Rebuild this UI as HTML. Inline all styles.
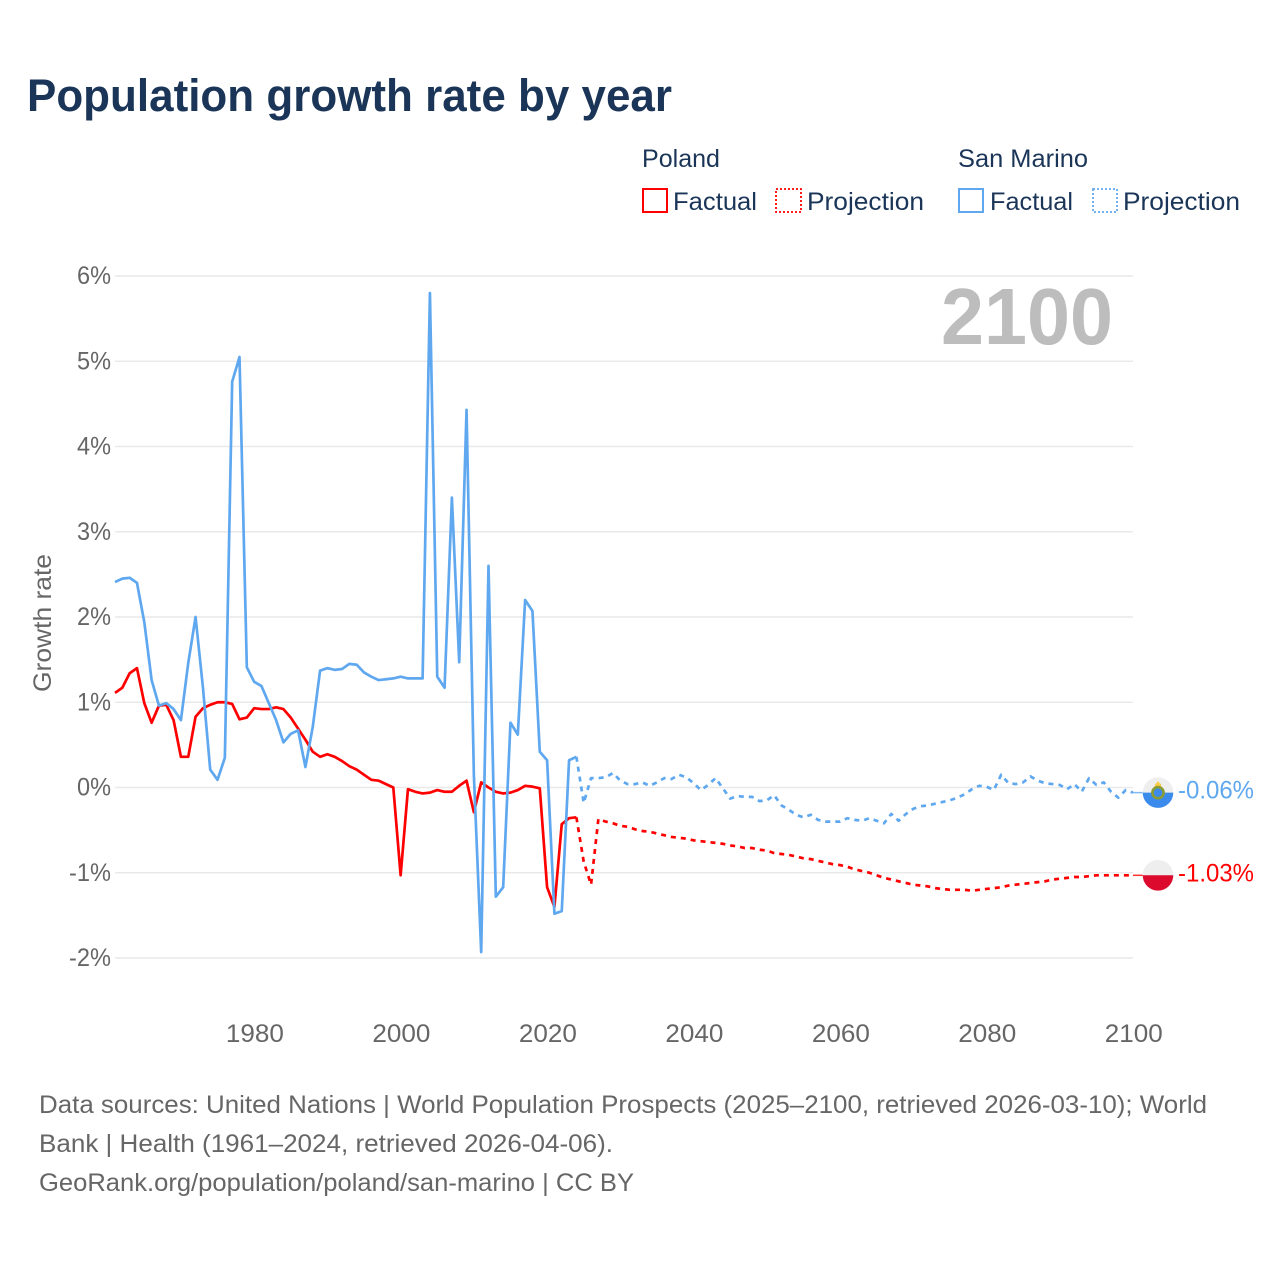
<!DOCTYPE html>
<html lang="en">
<head>
<meta charset="utf-8">
<title>Population growth rate by year</title>
<style>
  html, body { margin: 0; padding: 0; background: #fff; }
  svg { display: block; font-family: "Liberation Sans", sans-serif; }
</style>
</head>
<body>
<svg id="chart" xmlns="http://www.w3.org/2000/svg" width="1280" height="1280" viewBox="0 0 1280 1280">
  <rect x="0" y="0" width="1280" height="1280" fill="#ffffff"/>
  <text x="27" y="111" font-size="45" font-weight="700" fill="#1a3557" textLength="645" lengthAdjust="spacingAndGlyphs">Population growth rate by year</text>

  <g font-size="25" fill="#1a3557">
    <text x="642" y="167" textLength="78" lengthAdjust="spacingAndGlyphs">Poland</text>
    <text x="958" y="167" textLength="130" lengthAdjust="spacingAndGlyphs">San Marino</text>
    <rect x="643" y="189" width="24" height="23" fill="none" stroke="#ff0000" stroke-width="2"/>
    <text x="673" y="210" textLength="84" lengthAdjust="spacingAndGlyphs">Factual</text>
    <rect x="776" y="189" width="25" height="23" fill="none" stroke="#ff0000" stroke-width="1.8" stroke-dasharray="2 2"/>
    <text x="807" y="210" textLength="117" lengthAdjust="spacingAndGlyphs">Projection</text>
    <rect x="959" y="189" width="24" height="23" fill="none" stroke="#5fa8ef" stroke-width="2"/>
    <text x="990" y="210" textLength="83" lengthAdjust="spacingAndGlyphs">Factual</text>
    <rect x="1093" y="189" width="24" height="23" fill="none" stroke="#5fa8ef" stroke-width="1.8" stroke-dasharray="2 2"/>
    <text x="1123" y="210" textLength="117" lengthAdjust="spacingAndGlyphs">Projection</text>
  </g>

  <text transform="translate(51,623) rotate(-90)" text-anchor="middle" font-size="25" fill="#666666" textLength="138" lengthAdjust="spacingAndGlyphs">Growth rate</text>

  <g id="grid"></g>
  <g id="y-ticks"></g>
  <g id="x-ticks"></g>

  <text x="941" y="344" font-size="80" font-weight="700" fill="#bdbdbd" textLength="172" lengthAdjust="spacingAndGlyphs">2100</text>

  <g id="series"></g>
  <g id="end-markers"></g>

  <g font-size="25" fill="#666666">
    <text x="39" y="1113" textLength="1168" lengthAdjust="spacingAndGlyphs">Data sources: United Nations | World Population Prospects (2025–2100, retrieved 2026-03-10); World</text>
    <text x="39" y="1152" textLength="574" lengthAdjust="spacingAndGlyphs">Bank | Health (1961–2024, retrieved 2026-04-06).</text>
    <text x="39" y="1191" textLength="595" lengthAdjust="spacingAndGlyphs">GeoRank.org/population/poland/san-marino | CC BY</text>
  </g>
</svg>

<script>
const factualStartYear = 1961;
const projectionStartYear = 2025;
const yTickValues = [6, 5, 4, 3, 2, 1, 0, -1, -2];
const yTickLabels = ["6%", "5%", "4%", "3%", "2%", "1%", "0%", "-1%", "-2%"];
const xTickValues = [1980, 2000, 2020, 2040, 2060, 2080, 2100];
const xTickLabels = ["1980", "2000", "2020", "2040", "2060", "2080", "2100"];

const polandFactual = [
  1.11, 1.17, 1.34, 1.40, 0.99, 0.76, 0.96, 0.97, 0.79, 0.36,
  0.36, 0.83, 0.93, 0.97, 1.00, 1.00, 0.98, 0.80, 0.82, 0.93,
  0.92, 0.92, 0.94, 0.92, 0.82, 0.69, 0.56, 0.42, 0.36, 0.39,
  0.36, 0.31, 0.25, 0.21, 0.15, 0.09, 0.08, 0.04, 0.00, -1.03,
  -0.02, -0.05, -0.07, -0.06, -0.03, -0.05, -0.05, 0.02, 0.08, -0.29,
  0.06, 0.00, -0.05, -0.07, -0.06, -0.03, 0.02, 0.01, -0.01, -1.17,
  -1.40, -0.43, -0.36, -0.35
];
const polandProjection = [
  -0.87, -1.14, -0.37, -0.40, -0.42, -0.45, -0.46, -0.49, -0.51, -0.52,
  -0.54, -0.56, -0.58, -0.59, -0.60, -0.62, -0.63, -0.64, -0.65, -0.66,
  -0.68, -0.69, -0.71, -0.71, -0.73, -0.74, -0.77, -0.78, -0.79, -0.81,
  -0.83, -0.84, -0.86, -0.88, -0.90, -0.91, -0.93, -0.96, -0.98, -1.00,
  -1.03, -1.06, -1.08, -1.10, -1.12, -1.14, -1.15, -1.16, -1.18, -1.19,
  -1.20, -1.20, -1.20, -1.21, -1.20, -1.19, -1.18, -1.17, -1.15, -1.14,
  -1.13, -1.12, -1.11, -1.10, -1.08, -1.07, -1.06, -1.05, -1.05, -1.04,
  -1.03, -1.03, -1.03, -1.03, -1.03, -1.03
];
const sanMarinoFactual = [
  2.41, 2.45, 2.46, 2.40, 1.94, 1.26, 0.96, 0.99, 0.92, 0.79,
  1.46, 2.00, 1.18, 0.21, 0.09, 0.35, 4.76, 5.05, 1.41, 1.24,
  1.19, 0.99, 0.79, 0.53, 0.63, 0.67, 0.24, 0.71, 1.37, 1.40,
  1.38, 1.39, 1.45, 1.44, 1.35, 1.30, 1.26, 1.27, 1.28, 1.30,
  1.28, 1.28, 1.28, 5.80, 1.30, 1.17, 3.40, 1.47, 4.43, 0.15,
  -1.93, 2.60, -1.28, -1.17, 0.76, 0.62, 2.20, 2.07, 0.42, 0.32,
  -1.48, -1.45, 0.32, 0.36
];
const sanMarinoProjection = [
  -0.18, 0.11, 0.11, 0.12, 0.17, 0.08, 0.04, 0.04, 0.06, 0.02,
  0.06, 0.11, 0.10, 0.15, 0.12, 0.05, -0.03, 0.03, 0.11, -0.01,
  -0.13, -0.10, -0.11, -0.11, -0.16, -0.15, -0.09, -0.21, -0.26, -0.32,
  -0.35, -0.32, -0.38, -0.40, -0.40, -0.40, -0.36, -0.38, -0.39, -0.36,
  -0.39, -0.42, -0.31, -0.39, -0.31, -0.25, -0.22, -0.21, -0.19, -0.17,
  -0.15, -0.12, -0.08, -0.02, 0.02, 0.01, -0.03, 0.15, 0.05, 0.04,
  0.06, 0.13, 0.08, 0.05, 0.04, 0.03, -0.02, 0.04, -0.05, 0.11,
  0.03, 0.06, -0.05, -0.12, -0.03, -0.06
];

const SVG_NS = "http://www.w3.org/2000/svg";
const RED = "#ff0000";
const BLUE = "#5fa8ef";

function xScale(year) {
  return 115 + (year - 1961) * (1133 - 115) / (2100 - 1961);
}
function yScale(value) {
  return 787.5 - value * 85.25;
}
function pointsFor(startYear, values) {
  return values.map(function (v, i) {
    return xScale(startYear + i).toFixed(2) + "," + yScale(v).toFixed(2);
  }).join(" ");
}
function make(tag, attrs, parent) {
  const el = document.createElementNS(SVG_NS, tag);
  Object.keys(attrs).forEach(function (k) { el.setAttribute(k, attrs[k]); });
  parent.appendChild(el);
  return el;
}

const grid = document.getElementById("grid");
const yTicks = document.getElementById("y-ticks");
const xTicks = document.getElementById("x-ticks");
const series = document.getElementById("series");
const endMarkers = document.getElementById("end-markers");

yTickValues.forEach(function (v, i) {
  const line = make("line", { x1: 115, x2: 1133, y1: yScale(v), y2: yScale(v), stroke: "#e9e9e9", "stroke-width": 1.4 }, grid);
  
  
  const label = make("text", {
    x: 111, y: yScale(v) + 8, "text-anchor": "end", "font-size": 25, fill: "#666666",
    textLength: v < 0 ? 42 : 34, lengthAdjust: "spacingAndGlyphs"
  }, yTicks);
  
  
  label.textContent = yTickLabels[i];
});

xTickValues.forEach(function (year, i) {
  const label = make("text", {
    x: xScale(year) + 0.8, y: 1042, "text-anchor": "middle", "font-size": 25, fill: "#666666",
    textLength: 58, lengthAdjust: "spacingAndGlyphs"
  }, xTicks);
  
  
  label.textContent = xTickLabels[i];
});

function drawSeries(name, color, factual, projection) {
  const lastFactualYear = factualStartYear + factual.length - 1;
  const lastFactual = factual[factual.length - 1];
  const dashed = make("polyline", {
    points: pointsFor(lastFactualYear, [lastFactual].concat(projection)),
    fill: "none", stroke: color, "stroke-width": 2.7, "stroke-dasharray": "5 5", "stroke-linejoin": "round"
  }, series);
  
  
  const solid = make("polyline", {
    points: pointsFor(factualStartYear, factual),
    fill: "none", stroke: color, "stroke-width": 2.7, "stroke-linejoin": "round"
  }, series);
  
  
}
drawSeries("poland", RED, polandFactual, polandProjection);
drawSeries("san-marino", BLUE, sanMarinoFactual, sanMarinoProjection);

function drawEnd(name, color, lowerColor, value) {
  const cy = yScale(value);
  const cx = 1158;
  const r = 15.3;
  const connector = make("line", { x1: xScale(2100), x2: cx - r, y1: cy, y2: cy, stroke: color, "stroke-width": 1.5, opacity: 0.8 }, endMarkers);
  
  
  const top = make("circle", { cx: cx, cy: cy, r: r, fill: "#eeeeee" }, endMarkers);
  
  
  const lower = make("path", {
    d: "M" + (cx - r) + " " + cy + " A" + r + " " + r + " 0 0 0 " + (cx + r) + " " + cy + " Z",
    fill: lowerColor
  }, endMarkers);
  
  
  const label = make("text", {
    x: 1178, y: cy + 6, "font-size": 25, fill: color, textLength: 76, lengthAdjust: "spacingAndGlyphs"
  }, endMarkers);
  
  
  label.textContent = value.toFixed(2) + "%";
  return cy;
}
const polandEnd = polandProjection[polandProjection.length - 1];
const sanMarinoEnd = sanMarinoProjection[sanMarinoProjection.length - 1];
drawEnd("poland", RED, "#dc0a2d", polandEnd);
const smY = drawEnd("san-marino", BLUE, "#3b8bec", sanMarinoEnd);

const crown = make("path", {
  d: "M1154.5 " + (smY - 4) + " L1155 " + (smY - 8.5) + " L1157 " + (smY - 10) + " L1158 " + (smY - 12) + " L1159 " + (smY - 10) + " L1161 " + (smY - 8.5) + " L1161.5 " + (smY - 4) + " Z",
  fill: "#f8cc46"
}, endMarkers);


const wreath = make("circle", { cx: 1158, cy: smY, r: 5.6, fill: "#3b8bec", stroke: "#8c9c34", "stroke-width": 2.6 }, endMarkers);


</script>
</body>
</html>
